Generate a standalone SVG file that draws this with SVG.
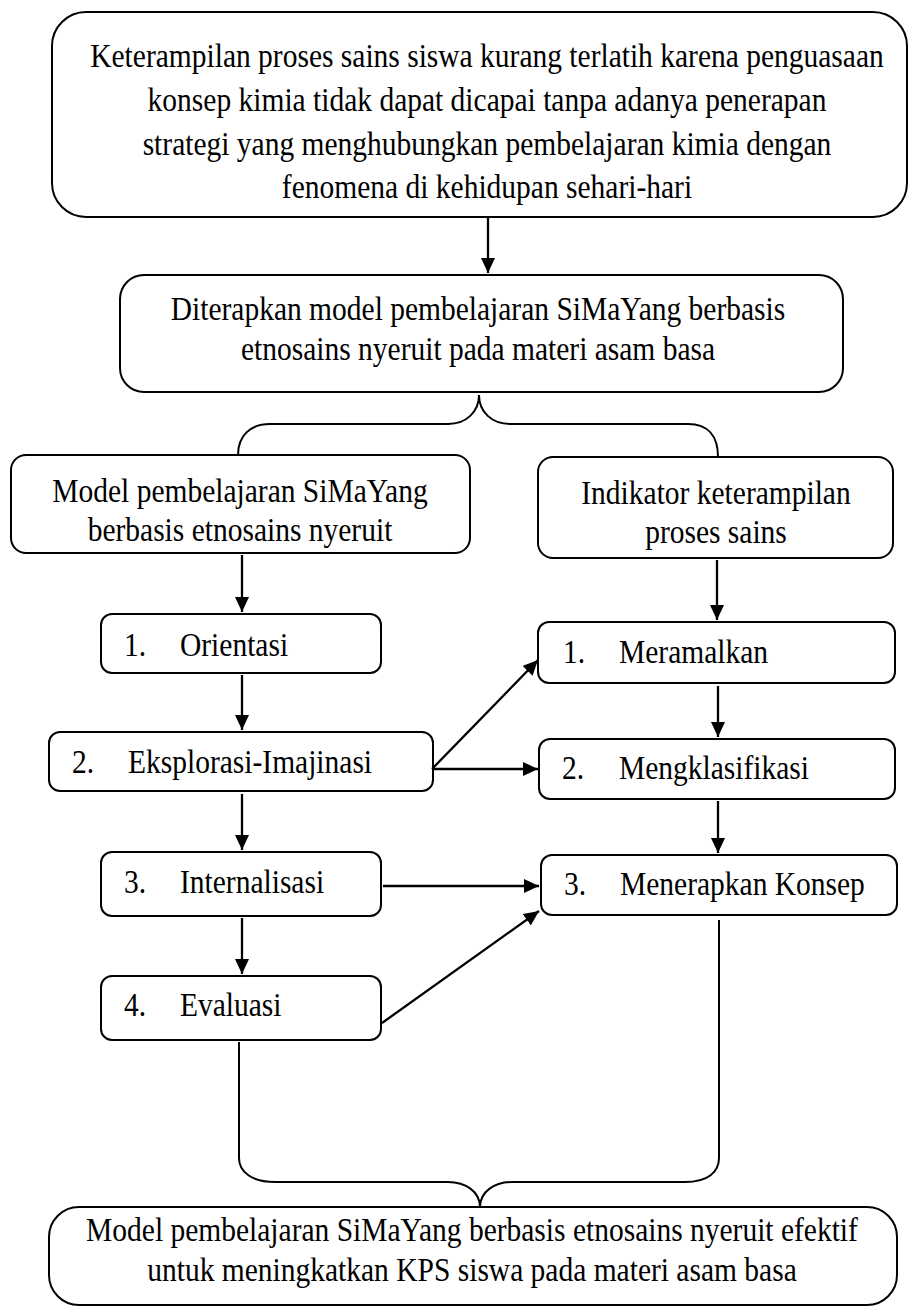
<svg xmlns="http://www.w3.org/2000/svg" width="909" height="1312" viewBox="0 0 909 1312">
<defs>
<style>
.box{fill:#fff;stroke:#000;stroke-width:2}
.t{font-family:"Liberation Serif","Times New Roman",serif;font-size:29.5px;fill:#000}
.c{text-anchor:middle}
.ln{fill:none;stroke:#000;stroke-width:2}
.ar{fill:none;stroke:#000;stroke-width:2.3;marker-end:url(#ah)}
</style>
<marker id="ah" markerUnits="userSpaceOnUse" markerWidth="16" markerHeight="14" refX="15" refY="7" orient="auto">
<path d="M0,0 L15,7 L0,14 z" fill="#000"/>
</marker>
</defs>
<rect width="909" height="1312" fill="#fff"/>

<g id="n-problem">
<rect class="box" x="52" y="12" width="855" height="205" rx="34"/>
<text class="t c" x="487" y="0" transform="translate(0,67) scale(1,1.16)">Keterampilan proses sains siswa kurang terlatih karena penguasaan</text>
<text class="t c" x="487" y="0" transform="translate(0,111) scale(1,1.16)">konsep kimia tidak dapat dicapai tanpa adanya penerapan</text>
<text class="t c" x="487" y="0" transform="translate(0,155) scale(1,1.16)">strategi yang menghubungkan pembelajaran kimia dengan</text>
<text class="t c" x="487" y="0" transform="translate(0,198) scale(1,1.16)">fenomena di kehidupan sehari-hari</text>
</g>

<g id="n-applied">
<rect class="box" x="120" y="275" width="723" height="117" rx="24"/>
<text class="t c" x="478" y="0" transform="translate(0,320) scale(1,1.16)">Diterapkan model pembelajaran SiMaYang berbasis</text>
<text class="t c" x="478" y="0" transform="translate(0,360) scale(1,1.16)">etnosains nyeruit pada materi asam basa</text>
</g>

<g id="n-model">
<rect class="box" x="11" y="455" width="459" height="98" rx="15"/>
<text class="t c" x="240" y="0" transform="translate(0,502) scale(1,1.16)">Model pembelajaran SiMaYang</text>
<text class="t c" x="240" y="0" transform="translate(0,541) scale(1,1.16)">berbasis etnosains nyeruit</text>
</g>

<g id="n-indikator">
<rect class="box" x="538" y="457" width="355" height="101" rx="15"/>
<text class="t c" x="716" y="0" transform="translate(0,504) scale(1,1.16)">Indikator keterampilan</text>
<text class="t c" x="716" y="0" transform="translate(0,543) scale(1,1.16)">proses sains</text>
</g>

<g id="n-orientasi">
<rect class="box" x="101" y="614" width="280" height="59" rx="11"/>
<text class="t" x="124" y="0" transform="translate(0,656) scale(1,1.16)">1.</text>
<text class="t" x="180" y="0" transform="translate(0,656) scale(1,1.16)">Orientasi</text>
</g>

<g id="n-eksplorasi">
<rect class="box" x="49" y="732" width="384" height="59" rx="11"/>
<text class="t" x="72" y="0" transform="translate(0,773) scale(1,1.16)">2.</text>
<text class="t" x="128" y="0" transform="translate(0,773) scale(1,1.16)">Eksplorasi-Imajinasi</text>
</g>

<g id="n-internalisasi">
<rect class="box" x="101" y="852" width="280" height="64" rx="11"/>
<text class="t" x="124" y="0" transform="translate(0,893) scale(1,1.16)">3.</text>
<text class="t" x="180" y="0" transform="translate(0,893) scale(1,1.16)">Internalisasi</text>
</g>

<g id="n-evaluasi">
<rect class="box" x="101" y="976" width="280" height="64" rx="11"/>
<text class="t" x="124" y="0" transform="translate(0,1016) scale(1,1.16)">4.</text>
<text class="t" x="180" y="0" transform="translate(0,1016) scale(1,1.16)">Evaluasi</text>
</g>

<g id="n-meramalkan">
<rect class="box" x="538" y="622" width="357" height="61" rx="11"/>
<text class="t" x="563" y="0" transform="translate(0,663) scale(1,1.16)">1.</text>
<text class="t" x="619" y="0" transform="translate(0,663) scale(1,1.16)">Meramalkan</text>
</g>

<g id="n-mengklasifikasi">
<rect class="box" x="539" y="739" width="356" height="60" rx="11"/>
<text class="t" x="562" y="0" transform="translate(0,779) scale(1,1.16)">2.</text>
<text class="t" x="619" y="0" transform="translate(0,779) scale(1,1.16)">Mengklasifikasi</text>
</g>

<g id="n-menerapkan">
<rect class="box" x="541" y="855" width="356" height="60" rx="11"/>
<text class="t" x="564" y="0" transform="translate(0,895) scale(1,1.16)">3.</text>
<text class="t" x="620" y="0" transform="translate(0,895) scale(1,1.16)">Menerapkan Konsep</text>
</g>

<g id="n-result">
<rect class="box" x="49" y="1207" width="848" height="98" rx="30"/>
<text class="t c" x="472" y="0" transform="translate(0,1241) scale(1,1.16)">Model pembelajaran SiMaYang berbasis etnosains nyeruit efektif</text>
<text class="t c" x="472" y="0" transform="translate(0,1281) scale(1,1.16)">untuk meningkatkan KPS siswa pada materi asam basa</text>
</g>

<g id="connectors">
<line class="ar" x1="488" y1="218" x2="488" y2="273"/>
<path class="ln" d="M238,455 C238,436 250,424 270,424 L448,424 C466,424 479,412 479,395 C479,412 492,424 510,424 L688,424 C708,424 718,436 718,457"/>
<line class="ar" x1="242" y1="555" x2="242" y2="612"/>
<line class="ar" x1="242" y1="675" x2="242" y2="730"/>
<line class="ar" x1="242" y1="794" x2="242" y2="850"/>
<line class="ar" x1="242" y1="918" x2="242" y2="974"/>
<line class="ar" x1="717" y1="560" x2="717" y2="620"/>
<line class="ar" x1="718" y1="686" x2="718" y2="737"/>
<line class="ar" x1="718" y1="801" x2="718" y2="853"/>
<line class="ar" x1="432" y1="769" x2="538" y2="660"/>
<line class="ar" x1="432" y1="769" x2="538" y2="769"/>
<line class="ar" x1="383" y1="886" x2="539" y2="886"/>
<line class="ar" x1="382" y1="1023" x2="539" y2="911"/>
<path class="ln" d="M239,1042 L239,1158 C239,1172 252,1182 275,1182 L448,1182 C466,1182 480,1192 480,1207 C480,1192 494,1182 512,1182 L685,1182 C708,1182 719,1172 719,1158 L719,920"/>
</g>
</svg>
